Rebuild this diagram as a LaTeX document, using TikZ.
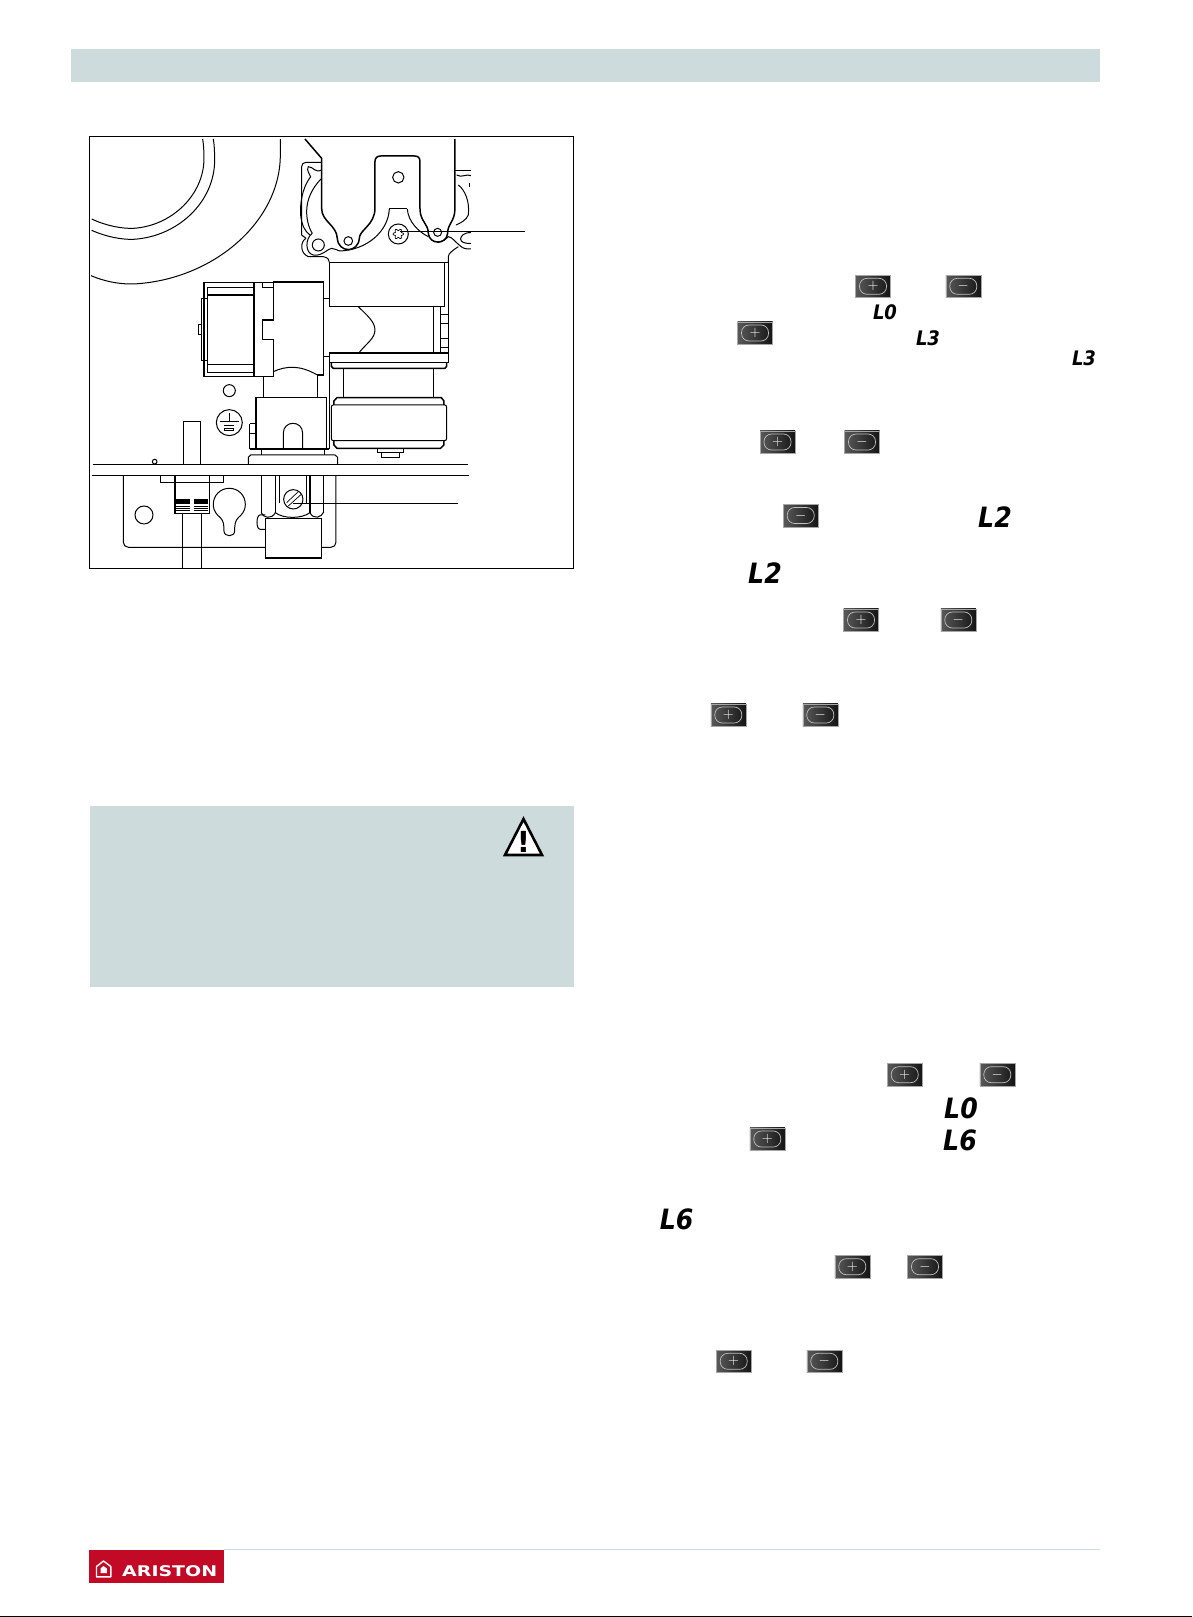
\documentclass[tikz,border=0pt]{standalone}
\usepackage{fontspec}
\usetikzlibrary{positioning}
\newfontfamily\lcdfont{DejaVu Sans}[BoldFont={DejaVu Sans Bold},BoldItalicFont={DejaVu Sans Bold Oblique}]
\newfontfamily\logofont{DejaVu Sans}[BoldFont={DejaVu Sans Bold}]
\definecolor{bandgrey}{HTML}{CDDBDC}
\definecolor{logored}{HTML}{C20A27}

\begin{document}
\begin{tikzpicture}[x=1pt, y=-1pt]
    \tikzset{
        thinl/.style = {line width=0.7pt},
        midl/.style = {line width=1pt},
        thickl/.style = {line width=1.5pt},
        btn/.style = {rectangle, minimum width=35pt, minimum height=22.5pt, inner sep=0pt, text=white,
                      draw=gray!70, line width=0.4pt, left color=black!65, right color=black!92,
                      path picture={\draw[white!75!black, line width=0.7pt, rounded corners=7.5pt]
                                    (path picture bounding box.center) ++(-13.5,-8) rectangle ++(27,16);}},
        lcdsmall/.style = {inner sep=0pt, xscale=0.9, font=\lcdfont\bfseries\itshape\fontsize{20}{20}\selectfont},
        lcdbig/.style = {inner sep=0pt, xscale=0.9, font=\lcdfont\bfseries\itshape\fontsize{28}{28}\selectfont}
    }
    \useasboundingbox (0,0) rectangle (1192,1617);

    \fill[bandgrey] (71,48.5) rectangle (1100,81.5);
    \fill[bandgrey] (89.6,805.7) rectangle (573.5,987);
    \draw[bandgrey, line width=1.5pt] (224,1549.7) -- (1100,1549.7);
    \draw[black, line width=1pt] (0,1616.3) -- (1192,1616.3);

    % warning sign
    \draw[line width=2.6pt, fill=white, line join=miter] (523.5,819) -- (542,855) -- (505,855) -- cycle;
    \node (warn) [inner sep=0pt, font=\logofont\bfseries\fontsize{29}{29}\selectfont] at (523.5,841.5) {!};

    % logo
    \fill[logored] (89,1550) rectangle (224,1582.7);
    \draw[white, line width=1.4pt, line join=round] (96.5,1576.8) -- (96.5,1566.5) -- (103.5,1561) -- (110.8,1566.5) -- (110.8,1576.8) -- cycle;
    \fill[white] (100.5,1573) -- (100.5,1568.5) -- (103.5,1566) -- (106.8,1568.5) -- (106.8,1573) -- cycle;
    \node (brand) [inner sep=0pt, text=white, xscale=1.29, font=\logofont\bfseries\fontsize{14.7}{14.7}\selectfont] at (169.7,1571.3) {ARISTON};

    % buttons
    \node (plusa) [btn] at (873,286.3) {\Large$+$};
    \node (minusa) [btn] at (963.3,286.3) {\Large$-$};
    \node (plusb) [btn] at (755,333) {\Large$+$};
    \node (plusc) [btn] at (777.5,442) {\Large$+$};
    \node (minusc) [btn] at (862,442) {\Large$-$};
    \node (minusd) [btn] at (800.7,515.5) {\Large$-$};
    \node (pluse) [btn] at (861,620) {\Large$+$};
    \node (minuse) [btn] at (958.3,620) {\Large$-$};
    \node (plusf) [btn] at (728.3,715) {\Large$+$};
    \node (minusf) [btn] at (820.3,715) {\Large$-$};
    \node (plusg) [btn] at (904.7,1074.7) {\Large$+$};
    \node (minusg) [btn] at (997.3,1074.7) {\Large$-$};
    \node (plush) [btn] at (767.3,1139) {\Large$+$};
    \node (plusi) [btn] at (852.3,1266.7) {\Large$+$};
    \node (minusi) [btn] at (925,1266.7) {\Large$-$};
    \node (plusj) [btn] at (733.7,1361.3) {\Large$+$};
    \node (minusj) [btn] at (824.3,1361.3) {\Large$-$};

    % display readings
    \node (loa) [lcdsmall] at (885,312.5) {L0};
    \node (lta) [lcdsmall] at (928,338.7) {L3};
    \node (ltb) [lcdsmall] at (1084,358.3) {L3};
    \node (lsa) [lcdbig] at (995,517) {L2};
    \node (lsb) [lcdbig] at (765,572.8) {L2};
    \node (lob) [lcdbig] at (961,1108.3) {L0};
    \node (lxa) [lcdbig] at (960,1140.3) {L6};
    \node (lxb) [lcdbig] at (676.7,1219) {L6};

    % gas valve drawing
    \begin{scope}[shift={(80,125)}, x=0.3333pt, y=-0.3333pt]
        \draw[midl] (28,35) rectangle (1480,1330);

        % burner circles
        \draw[midl] (35,282) .. controls (80,303) and (125,311) .. (160,310) .. controls (275,303) and (372,210) .. (372,100) .. controls (372,80) and (371,60) .. (368,42);
        \draw[midl] (35,316) .. controls (80,336) and (125,344) .. (160,343) .. controls (295,335) and (404,230) .. (404,105) .. controls (404,80) and (403,60) .. (400,42);
        \draw[midl] (33,452) .. controls (70,468) and (115,478) .. (160,477) .. controls (400,465) and (601,290) .. (601,90) .. controls (601,75) and (601,55) .. (601,42);

        % valve head
        \draw[thickl] (675,42) -- (725,100) -- (725,250) .. controls (725,290) and (770,300) .. (772,340)
            .. controls (775,385) and (835,385) .. (838,340) .. controls (838,315) and (885,300) .. (885,250)
            -- (885,110) .. controls (885,98) and (892,93) .. (902,93) -- (1003,93) .. controls (1015,93) and (1020,98) .. (1020,110)
            -- (1020,250) .. controls (1020,290) and (1045,295) .. (1045,325) .. controls (1048,360) and (1100,360) .. (1103,325)
            .. controls (1103,295) and (1125,290) .. (1125,250) -- (1125,42);
        \draw[midl] (928,252) -- (982,252);
        \draw[midl] (928,252) .. controls (925,320) and (860,375) .. (780,378);
        \draw[midl] (982,252) .. controls (985,290) and (1015,320) .. (1045,335);
        \draw[midl] (955,157) circle (17);
        \draw[midl] (805,348) circle (13);
        \draw[midl] (1073,322) circle (12);
        \draw[midl] (715,360) circle (18);
        \draw[midl] (955,327) circle (30);
        \draw[thinl] plot[domain=0:360, samples=37, variable=\t] ({955+(13+3*cos(6*\t))*cos(\t)},{327+(13+3*cos(6*\t))*sin(\t)});

        % left flange
        \draw[midl] (725,112) -- (678,112) .. controls (670,112) and (665,118) .. (665,125) -- (665,330) -- (678,340);
        \draw[midl] (725,135) .. controls (705,145) and (700,125) .. (685,125) .. controls (678,135) and (690,150) .. (692,155)
            .. controls (665,190) and (660,240) .. (662,270) .. controls (665,300) and (675,320) .. (690,330);
        \draw[midl] (725,160) .. controls (695,190) and (680,225) .. (680,260) .. controls (680,290) and (690,315) .. (697,325);
        \draw[midl] (678,340) .. controls (660,350) and (660,385) .. (685,395) -- (730,395) .. controls (745,398) and (748,405) .. (748,412);
        \draw[midl] (697,325) .. controls (675,340) and (675,385) .. (700,390) .. controls (725,395) and (745,370) .. (755,370) .. controls (765,370) and (775,378) .. (780,378);

        % right flange
        \draw[thickl] (1125,137) -- (1173,137);
        \draw[midl] (1130,150) .. controls (1145,160) and (1160,145) .. (1173,152);
        \draw[midl] (1168,175) -- (1168,185);
        \draw[midl] (1135,180) .. controls (1155,195) and (1170,230) .. (1165,270) .. controls (1160,285) and (1140,295) .. (1128,300);
        \draw[midl] (1173,323) .. controls (1150,322) and (1142,335) .. (1142,342) .. controls (1142,352) and (1155,356) .. (1173,355);
        \draw[midl] (1073,352) .. controls (1090,350) and (1100,340) .. (1105,335) .. controls (1115,335) and (1125,350) .. (1140,362) .. controls (1150,372) and (1160,372) .. (1173,372);
        \draw[midl] (1105,412) -- (1105,395) .. controls (1105,385) and (1120,375) .. (1135,365);

        % valve body
        \draw[midl] (748,412) -- (1105,412);
        \draw[midl] (748,412) -- (748,545) -- (1093,545);
        \draw[midl] (1093,412) -- (1093,545);
        \draw[midl] (1105,412) -- (1105,684);
        \draw[midl] (1061,545) -- (1061,684);
        \draw[midl] (1081,545) -- (1081,684);
        \draw[thickl] (1081,568) -- (1105,568);
        \draw[thickl] (1081,595) -- (1105,595);
        \draw[thickl] (1081,640) -- (1105,640);
        \draw[thickl] (1081,667) -- (1105,667);
        \draw[midl] (835,545) .. controls (860,570) and (885,590) .. (885,615) .. controls (885,640) and (860,655) .. (838,682);
        \draw[thickl] (748,684) -- (1105,684);
        \draw[midl] (748,684) -- (748,712) -- (1105,712) -- (1105,684);
        \draw[thickl] (754,712) -- (754,724) -- (760,730) -- (1095,730) -- (1100,724) -- (1100,712);
        \draw[midl] (792,730) -- (792,817);
        \draw[midl] (1061,730) -- (1061,817);

        % lower drum
        \draw[thickl] (762,840) -- (762,828) -- (771,818) -- (1084,818) -- (1092,828) -- (1092,840);
        \draw[midl, rounded corners=2pt] (754,840) rectangle (1100,947);
        \draw[thickl] (762,947) -- (762,960) -- (771,970) -- (1082,970) -- (1092,960) -- (1092,947);
        \draw[midl] (892,970) rectangle (970,982);
        \draw[midl] (905,982) rectangle (960,997);

        % solenoid
        \draw[thickl] (372,473) rectangle (522,755);
        \draw[thinl] (382,487) -- (522,487);
        \draw[thinl] (382,487) -- (382,742) -- (522,742);
        \draw[thickl] (382,510) -- (522,510);
        \draw[thickl] (382,718) -- (522,718);
        \draw[midl] (382,520) -- (366,520) -- (366,707) -- (382,707);
        \draw[midl] (366,600) -- (355,600) -- (355,628) -- (366,628);
        \draw[thickl] (522,473) -- (580,473) -- (580,585) -- (548,585) -- (548,643) -- (580,643) -- (580,755) -- (522,755);
        \draw[midl] (548,473) -- (548,487) -- (580,487);
        \draw[thickl] (580,471) -- (730,471) -- (730,750) -- (712,750);
        \draw[midl] (580,740) .. controls (620,722) and (660,720) .. (712,750);
        \draw[thickl] (730,520) -- (748,520);
        \draw[thickl] (730,695) -- (748,695);
        \draw[midl] (550,755) -- (550,818);
        \draw[midl] (712,750) -- (712,818);

        % lower block
        \draw[thickl] (528,818) rectangle (740,970);
        \draw[midl] (748,684) -- (748,972);
        \draw[thickl] (510,972) -- (748,972);
        \draw[midl] (510,897) -- (528,897);
        \draw[midl] (510,897) -- (510,972);
        \draw[midl] (510,925) -- (528,925);
        \draw[midl] (610,970) -- (610,925) .. controls (610,885) and (668,885) .. (668,925) -- (668,970);
        \draw[midl] (448,797) circle (18);

        % earth sign
        \draw[midl] (448,893) circle (39);
        \draw[thickl] (448,865) -- (448,890);
        \draw[thickl] (420,890) -- (477,890);
        \draw[midl] (433,903) -- (463,903);
        \draw[midl] (435,910) rectangle (460,917);

        % plate and rails
        \draw[midl] (505,1018) -- (505,997) -- (512,990) -- (765,990) -- (773,997) -- (773,1018);
        \draw[midl] (544,975) -- (544,990);
        \draw[midl] (735,975) -- (735,990);
        \draw[midl] (310,1020) -- (310,890);
        \draw[thickl] (310,890) -- (362,890);
        \draw[midl] (362,890) -- (362,1020);
        \draw[midl] (224,1010) circle (7);
        \draw[midl] (38,1020) -- (1163,1020);
        \draw[thickl] (35,1052) -- (1167,1052);
        \draw[midl, rounded corners=5pt] (130,1052) -- (130,1267) -- (556,1267);
        \draw[midl, rounded corners=5pt] (724,1267) -- (768,1267) -- (768,1052);

        % terminal
        \draw[midl] (242,1052) -- (242,1072) -- (430,1072) -- (430,1052);
        \draw[thickl] (285,1052) -- (285,1165) -- (388,1165) -- (388,1052);
        \fill (288,1123) rectangle (330,1137);
        \fill (342,1123) rectangle (385,1137);
        \draw[thinl] (288,1143) -- (330,1143);
        \draw[thinl] (342,1143) -- (385,1143);
        \draw[thinl] (288,1150) -- (330,1150);
        \draw[thinl] (342,1150) -- (385,1150);
        \draw[thinl] (288,1157) -- (330,1157);
        \draw[thinl] (342,1157) -- (385,1157);
        \draw[midl] (308,1165) -- (308,1330);
        \draw[midl] (364,1165) -- (364,1330);
        \draw[midl] (192,1170) circle (27);
        \draw[midl] (432,1218) .. controls (432,1200) and (431,1188) .. (421,1178) .. controls (412,1170) and (400,1160) .. (400,1138)
            .. controls (400,1111) and (421,1090) .. (448,1090) .. controls (475,1090) and (496,1111) .. (496,1138)
            .. controls (496,1160) and (484,1170) .. (475,1178) .. controls (465,1188) and (464,1200) .. (464,1218)
            .. controls (464,1237) and (432,1237) .. (432,1218) -- cycle;

        % regulator
        \draw[thickl] (544,1052) -- (544,1163);
        \draw[midl] (586,1052) -- (586,1163);
        \draw[midl] (598,1052) -- (598,1135);
        \draw[midl] (680,1052) -- (680,1135);
        \draw[thickl] (690,1052) -- (690,1163);
        \draw[midl] (732,1052) -- (732,1163);
        \draw[midl] (544,1163) .. controls (548,1178) and (575,1185) .. (586,1163) .. controls (610,1182) and (665,1182) .. (690,1163) .. controls (700,1185) and (725,1178) .. (732,1160);
        \draw[thickl] (556,1180) rectangle (724,1299);
        \draw[midl] (556,1170) -- (540,1170) .. controls (528,1172) and (528,1212) .. (540,1213) -- (556,1213);
        \draw[midl] (640,1123) circle (29);
        \draw[thinl] (620,1133) -- (655,1100);
        \draw[thinl] (625,1143) -- (664,1108);

        % leader lines
        \coordinate (torx) at (960,320);
        \coordinate (torxend) at (1335,320);
        \coordinate (slot) at (640,1135);
        \coordinate (slotend) at (1133,1135);
        \draw[thickl] (torx) -- (torxend);
        \draw[thinl] (slot) -- (slotend);
    \end{scope}
\end{tikzpicture}
\end{document}
